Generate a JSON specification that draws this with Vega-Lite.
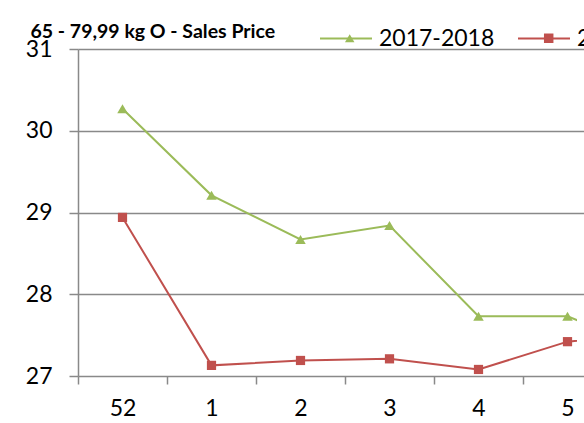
{
  "$schema": "https://vega.github.io/schema/vega-lite/v6.json",
  "width": 499,
  "height": 327,
  "autosize": {"type": "none"},
  "padding": {"left": 78, "top": 49, "right": 7, "bottom": 47},
  "background": "white",
  "config": {"view": {"stroke": null}, "font": "Lato"},
  "data": {
    "values": [
      {"week": "52", "season": "2017-2018", "price": 30.27},
      {"week": "1", "season": "2017-2018", "price": 29.21},
      {"week": "2", "season": "2017-2018", "price": 28.67},
      {"week": "3", "season": "2017-2018", "price": 28.84},
      {"week": "4", "season": "2017-2018", "price": 27.73},
      {"week": "5", "season": "2017-2018", "price": 27.73},
      {"week": "6", "season": "2017-2018", "price": 27.3},
      {"week": "52", "season": "2018-2019", "price": 28.94},
      {"week": "1", "season": "2018-2019", "price": 27.13},
      {"week": "2", "season": "2018-2019", "price": 27.19},
      {"week": "3", "season": "2018-2019", "price": 27.21},
      {"week": "4", "season": "2018-2019", "price": 27.08},
      {"week": "5", "season": "2018-2019", "price": 27.42},
      {"week": "6", "season": "2018-2019", "price": 27.52}
    ]
  },
  "encoding": {
    "x": {
      "field": "week",
      "type": "ordinal",
      "scale": {"type": "band", "domain": ["52", "1", "2", "3", "4", "5", "6"], "range": [0, 623], "paddingInner": 0, "paddingOuter": 0},
      "axis": {
        "title": null,
        "domain": false,
        "grid": false,
        "ticks": true,
        "tickBand": "extent",
        "tickSize": 8,
        "tickColor": "#898989",
        "tickWidth": 1.5,
        "labelAngle": 0,
        "labelPadding": 13,
        "labelFont": "Lato",
        "labelFontSize": 23,
        "labelColor": "#000000"
      }
    },
    "y": {
      "field": "price",
      "type": "quantitative",
      "scale": {"domain": [27, 31], "zero": false, "nice": false},
      "axis": {
        "title": "65 - 79,99 kg O - Sales Price",
        "titleAngle": 0,
        "titleX": -48,
        "titleY": -11.5,
        "titleAlign": "left",
        "titleBaseline": "alphabetic",
        "titleFont": "Lato",
        "titleFontSize": 19.5,
        "titleFontWeight": "bold",
        "titleColor": "#000000",
        "values": [27, 28, 29, 30, 31],
        "domain": true,
        "domainColor": "#898989",
        "domainWidth": 1.5,
        "grid": true,
        "gridColor": "#898989",
        "gridWidth": 1.5,
        "ticks": true,
        "tickSize": 9,
        "tickColor": "#898989",
        "tickWidth": 1.5,
        "labelPadding": 17,
        "labelFont": "Lato",
        "labelFontSize": 23,
        "labelColor": "#000000"
      }
    }
  },
  "layer": [
    {
      "mark": {"type": "line", "strokeWidth": 2, "clip": true},
      "encoding": {
        "color": {
          "field": "season",
          "type": "nominal",
          "scale": {"domain": ["2017-2018", "2018-2019"], "range": ["#9BBB59", "#C0504D"]},
          "legend": {
            "orient": "none",
            "legendX": 241,
            "legendY": -37.5,
            "direction": "horizontal",
            "title": null,
            "symbolType": "stroke",
            "symbolSize": 2704,
            "symbolStrokeWidth": 2,
            "labelFont": "Lato",
            "labelFontSize": 23,
            "labelColor": "#000000",
            "labelOffset": 6,
            "columnPadding": 19,
            "padding": 0
          }
        }
      }
    },
    {
      "mark": {"type": "point", "filled": true, "opacity": 1, "clip": true},
      "encoding": {
        "size": {
          "field": "season",
          "type": "nominal",
          "scale": {"domain": ["2017-2018", "2018-2019"], "range": [110, 85]},
          "legend": null
        },
        "color": {
          "field": "season",
          "type": "nominal",
          "scale": {"domain": ["2017-2018", "2018-2019"], "range": ["#9BBB59", "#C0504D"]},
          "legend": {
            "orient": "none",
            "legendX": 260.2,
            "legendY": -22.5,
            "direction": "horizontal",
            "title": null,
            "symbolSize": 90,
            "symbolStrokeWidth": 0,
            "labelFont": "Lato",
            "labelFontSize": 23,
            "labelColor": "#000000",
            "labelOpacity": 0,
            "labelOffset": 49,
            "columnPadding": 11,
            "padding": 0
          }
        },
        "shape": {
          "field": "season",
          "type": "nominal",
          "scale": {"domain": ["2017-2018", "2018-2019"], "range": ["triangle-up", "square"]},
          "legend": {
            "orient": "none",
            "legendX": 260.2,
            "legendY": -22.5,
            "direction": "horizontal",
            "title": null,
            "symbolSize": 90,
            "symbolStrokeWidth": 0,
            "labelFont": "Lato",
            "labelFontSize": 23,
            "labelColor": "#000000",
            "labelOpacity": 0,
            "labelOffset": 49,
            "columnPadding": 11,
            "padding": 0
          }
        }
      }
    }
  ],
  "resolve": {"legend": {"color": "independent", "shape": "independent"}}
}
